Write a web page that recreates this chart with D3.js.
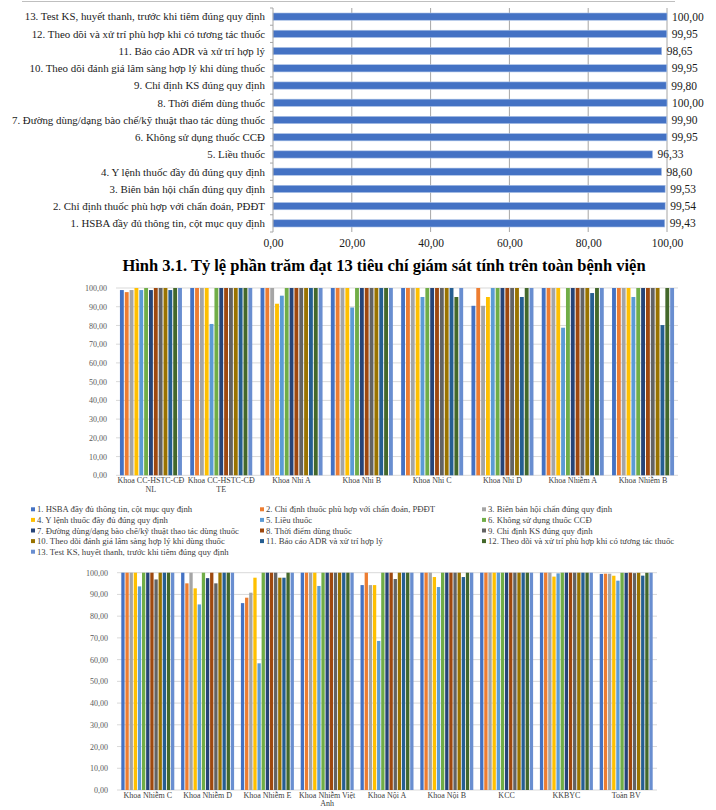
<!DOCTYPE html>
<html>
<head>
    <meta charset="utf-8">
    <script src="https://d3js.org/d3.v7.min.js"></script>
    <style>
        body { margin: 0; background: #fff; }
        svg { display: block; font-family: "Liberation Serif", "Times New Roman", serif; }
    </style>
</head>
<body>
    <div id="chart"></div>

    <script>
        // 13 supervision criteria
        const criteria = [
            "1. HSBA đầy đủ thông tin, cột mục quy định",
            "2. Chỉ định thuốc phù hợp với chẩn đoán, PĐĐT",
            "3. Biên bản hội chẩn đúng quy định",
            "4. Y lệnh thuốc đầy đủ đúng quy định",
            "5. Liều thuốc",
            "6. Không sử dụng thuốc CCĐ",
            "7. Đường dùng/dạng bào chế/kỹ thuật thao tác dùng thuốc",
            "8. Thời điểm dùng thuốc",
            "9. Chỉ định KS đúng quy định",
            "10. Theo dõi đánh giá lâm sàng hợp lý khi dùng thuốc",
            "11. Báo cáo ADR và xử trí hợp lý",
            "12. Theo dõi và xử trí phù hợp khi có tương tác thuốc",
            "13. Test KS, huyết thanh, trước khi tiêm đúng quy định"
        ];

        // whole-hospital rate per criterion
        const overall = [99.43, 99.54, 99.53, 98.60, 96.33, 99.95, 99.90, 100.00, 99.80, 99.95, 98.65, 99.95, 100.00];

        const topTicks = [0, 20, 40, 60, 80, 100];
        const gridTicks = [0, 10, 20, 30, 40, 50, 60, 70, 80, 90, 100];

        const colors = ["#4472C4", "#ED7D31", "#A5A5A5", "#FFC000", "#5B9BD5", "#70AD47",
                        "#264478", "#9E480E", "#636363", "#997300", "#255E91", "#43682B", "#698ED0"];

        // departments, first grouped chart
        const deptsA = ["Khoa CC-HSTC-CĐ NL", "Khoa CC-HSTC-CĐ TE", "Khoa Nhi A", "Khoa Nhi B",
                        "Khoa Nhi C", "Khoa Nhi D", "Khoa Nhiễm A", "Khoa Nhiễm B"];
        const valuesA = [
            [98.9, 97.8, 98.9, 100, 98.9, 100, 98.9, 100, 100, 100, 98.9, 100, 100],
            [100, 100, 100, 100, 80.8, 100, 100, 100, 100, 100, 100, 100, 100],
            [100, 100, 100, 91.6, 95.9, 100, 100, 100, 100, 100, 100, 100, 100],
            [100, 100, 100, 100, 89.6, 100, 100, 100, 100, 100, 100, 100, 100],
            [100, 100, 100, 100, 95.2, 100, 100, 100, 100, 100, 100, 95.2, 100],
            [90.5, 100, 90.5, 95.2, 100, 100, 100, 100, 100, 100, 95.2, 100, 100],
            [100, 100, 100, 100, 78.8, 100, 100, 100, 100, 100, 97.3, 100, 100],
            [100, 100, 100, 100, 95.2, 100, 100, 100, 100, 100, 80.2, 100, 100]
        ];

        // departments, second grouped chart
        const deptsB = ["Khoa Nhiễm C", "Khoa Nhiễm D", "Khoa Nhiễm E", "Khoa Nhiễm Việt Anh",
                        "Khoa Nội A", "Khoa Nội B", "KCC", "KKBYC", "Toàn BV"];
        const valuesB = [
            [100, 100, 100, 100, 93.7, 100, 100, 100, 96.9, 100, 100, 100, 100],
            [100, 95.1, 100, 92.8, 85.4, 100, 97.5, 100, 95.1, 100, 100, 100, 100],
            [86.0, 88.5, 90.8, 97.7, 58.3, 100, 100, 100, 100, 97.7, 97.7, 100, 100],
            [100, 100, 100, 100, 93.9, 100, 100, 100, 100, 100, 100, 100, 100],
            [94.3, 100, 94.3, 94.3, 68.6, 100, 100, 100, 97.1, 100, 100, 100, 100],
            [100, 100, 100, 98.0, 93.4, 100, 100, 100, 100, 100, 98.0, 100, 100],
            [100, 100, 100, 100, 100, 100, 100, 100, 100, 100, 100, 100, 100],
            [100, 100, 100, 98.2, 99.7, 100, 100, 100, 100, 100, 100, 100, 100],
            [99.43, 99.54, 99.53, 98.60, 96.33, 99.95, 99.90, 100.00, 99.80, 99.95, 98.65, 99.95, 100.00]
        ];

        const fmt = d => d.toFixed(2).replace(".", ",");

        const W = 716, H = 810;
        const svg = d3.select("#chart").append("svg")
            .attr("width", W)
            .attr("height", H);

        // ---------- top horizontal bar chart ----------
        svg.append("line")
            .attr("x1", 22).attr("x2", 675).attr("y1", 1.5).attr("y2", 1.5)
            .attr("stroke", "#bfbfbf");

        const x = d3.scaleLinear().domain([0, 100]).range([273, 667]);
        const y = d3.scaleBand()
            .domain(criteria.slice().reverse())
            .range([8, 232])
            .paddingInner(0.58)
            .paddingOuter(0.29);

        const topG = svg.append("g");

        topG.selectAll(".vgrid")
            .data(topTicks.slice(1))
            .join("line")
            .attr("x1", d => x(d)).attr("x2", d => x(d))
            .attr("y1", 8).attr("y2", 232)
            .attr("stroke", "#a6a6a6");

        topG.selectAll(".bar")
            .data(overall)
            .join("rect")
            .attr("x", x(0))
            .attr("y", (d, i) => y(criteria[i]))
            .attr("width", d => x(d) - x(0))
            .attr("height", y.bandwidth())
            .attr("fill", "#4472C4")
            .attr("stroke", "#a9c0e6")
            .attr("stroke-width", 0.6);

        // left axis with band boundary ticks
        topG.append("line")
            .attr("x1", x(0)).attr("x2", x(0))
            .attr("y1", 8).attr("y2", 232)
            .attr("stroke", "#a6a6a6");
        topG.selectAll(".btick")
            .data(d3.range(criteria.length + 1))
            .join("line")
            .attr("x1", x(0) - 3).attr("x2", x(0))
            .attr("y1", i => 8 + i * y.step())
            .attr("y2", i => 8 + i * y.step())
            .attr("stroke", "#a6a6a6");

        topG.selectAll(".cat")
            .data(criteria)
            .join("text")
            .attr("x", 265)
            .attr("y", d => y(d) + y.bandwidth() / 2)
            .attr("dy", "0.35em")
            .attr("text-anchor", "end")
            .attr("font-size", 10.9)
            .attr("fill", "#1a1a1a")
            .text(d => d);

        topG.selectAll(".val")
            .data(overall)
            .join("text")
            .attr("x", d => x(d) + 5)
            .attr("y", (d, i) => y(criteria[i]) + y.bandwidth() / 2)
            .attr("dy", "0.35em")
            .attr("font-size", 11.5)
            .attr("fill", "#1a1a1a")
            .text(fmt);

        const xAxis = topG.append("g")
            .attr("transform", "translate(0,236)")
            .call(d3.axisBottom(x).tickValues(topTicks).tickSize(0).tickFormat(fmt));
        xAxis.select(".domain").remove();
        xAxis.selectAll("text")
            .attr("font-family", "Liberation Serif, serif")
            .attr("font-size", 11.5)
            .attr("fill", "#1a1a1a");

        svg.append("text")
            .attr("x", 384)
            .attr("y", 271)
            .attr("text-anchor", "middle")
            .attr("font-size", 16.5)
            .attr("font-weight", "bold")
            .attr("fill", "#000")
            .text("Hình 3.1. Tỷ lệ phần trăm đạt 13 tiêu chí giám sát tính trên toàn bệnh viện");

        // ---------- grouped column charts ----------
        function wrap(sel, width) {
            sel.each(function () {
                const t = d3.select(this);
                const words = t.text().split(" ");
                const xx = t.attr("x");
                t.text(null);
                let line = [];
                let ts = t.append("tspan").attr("x", xx).attr("dy", 0);
                words.forEach(w => {
                    line.push(w);
                    ts.text(line.join(" "));
                    if (ts.node().getComputedTextLength() > width && line.length > 1) {
                        line.pop();
                        ts.text(line.join(" "));
                        line = [w];
                        ts = t.append("tspan").attr("x", xx).attr("dy", "1.05em").text(w);
                    }
                });
            });
        }

        function grouped(depts, values, yTop, yBottom, x0r, padIn, padOut) {
            const g = svg.append("g");
            const yy = d3.scaleLinear().domain([0, 100]).range([yBottom, yTop]);
            const x0 = d3.scaleBand().domain(depts).range(x0r)
                .paddingInner(padIn).paddingOuter(padOut);
            const x1 = d3.scaleBand().domain(d3.range(13)).range([0, x0.bandwidth()])
                .paddingInner(0.2);

            g.selectAll(".hgrid")
                .data(gridTicks)
                .join("line")
                .attr("x1", x0r[0]).attr("x2", x0r[1])
                .attr("y1", d => yy(d)).attr("y2", d => yy(d))
                .attr("stroke", "#d9d9d9");

            const yAxis = g.append("g")
                .attr("transform", `translate(${x0r[0] - 6},0)`)
                .call(d3.axisLeft(yy).tickValues(gridTicks).tickSize(0).tickFormat(fmt));
            yAxis.select(".domain").remove();
            yAxis.selectAll("text")
                .attr("font-family", "Liberation Serif, serif")
                .attr("font-size", 8)
                .attr("fill", "#595959");

            const grp = g.selectAll(".grp")
                .data(values)
                .join("g")
                .attr("transform", (d, i) => `translate(${x0(depts[i])},0)`);
            grp.selectAll("rect")
                .data(d => d)
                .join("rect")
                .attr("x", (d, j) => x1(j))
                .attr("y", d => yy(d))
                .attr("width", x1.bandwidth())
                .attr("height", d => yy(0) - yy(d))
                .attr("fill", (d, j) => colors[j]);

            g.selectAll(".dept")
                .data(depts)
                .join("text")
                .attr("x", d => x0(d) + x0.bandwidth() / 2)
                .attr("y", yBottom + 8)
                .attr("text-anchor", "middle")
                .attr("font-size", 8)
                .attr("fill", "#404040")
                .text(d => d)
                .call(wrap, x0.step());
        }

        grouped(deptsA, valuesA, 288, 475.3, [116, 678], 0.118, 0.056);
        grouped(deptsB, valuesB, 572.7, 790, [117, 657], 0.114, 0.072);

        // ---------- legend ----------
        const legCols = [33, 262, 484];
        const legend = svg.append("g");
        const item = legend.selectAll(".leg")
            .data(criteria)
            .join("g")
            .attr("transform", (d, i) => `translate(${legCols[i % 3]},${509.3 + Math.floor(i / 3) * 10.6})`);
        item.append("rect")
            .attr("x", -2).attr("y", -2)
            .attr("width", 4).attr("height", 4)
            .attr("fill", (d, i) => colors[i]);
        item.append("text")
            .attr("x", 4)
            .attr("dy", "0.35em")
            .attr("font-size", 8.7)
            .attr("fill", "#404040")
            .text(d => d);
    </script>
</body>
</html>
